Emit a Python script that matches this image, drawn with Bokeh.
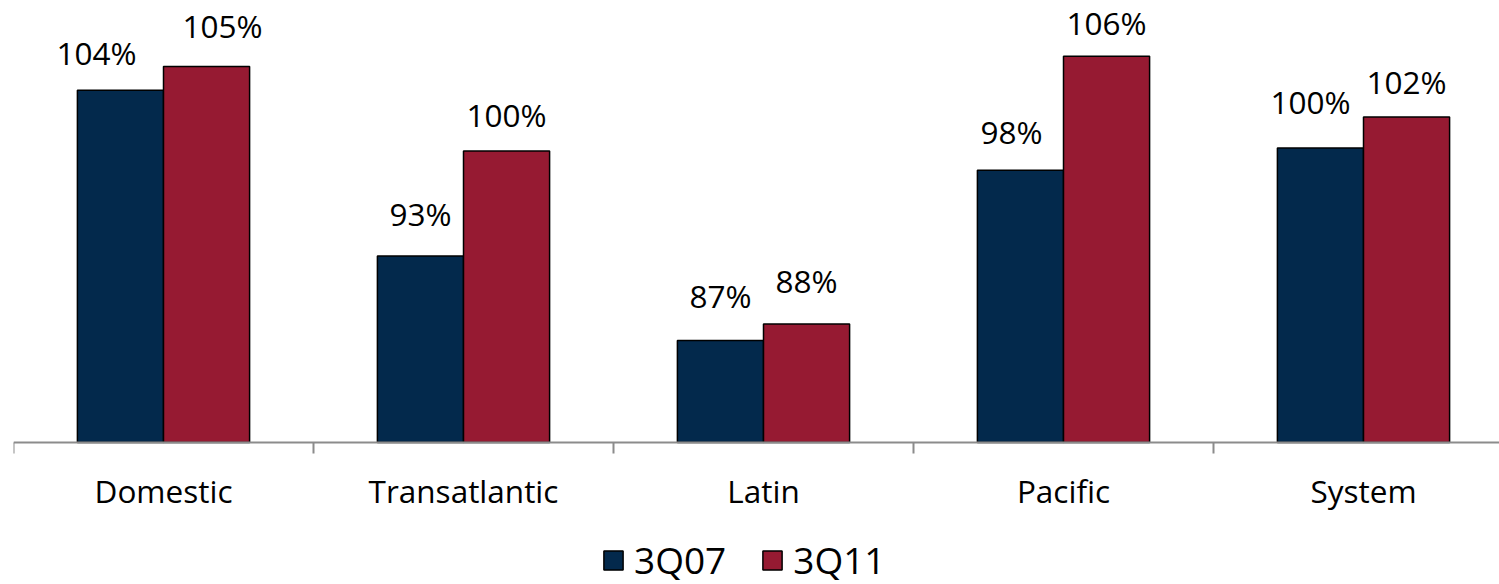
from bokeh.plotting import figure
from bokeh.models import (Range1d, FixedTicker, CustomJSTickFormatter, Legend,
                          LegendItem, ColumnDataSource, LabelSet)
from bokeh.core.properties import value
from bokeh.embed import file_html
from bokeh.resources import INLINE

# Regions and the two quarters compared
regions = ["Domestic", "Transatlantic", "Latin", "Pacific", "System"]
series_names = ["3Q07", "3Q11"]
values_3q07 = [103.8, 92.6, 86.9, 98.4, 99.9]
values_3q11 = [105.4, 99.7, 88.0, 106.1, 102.0]

NAVY = "#03294C"
CRIMSON = "#961A32"
AXIS_GREY = "#8C8C8C"
FONT = "Open Sans"

BASE = 80.0            # value where the bars start
BAR_W = 0.287          # bar width in category units
PX_PER_UNIT = 14.8     # vertical scale, pixels per percentage point
n = len(regions)

p = figure(width=1499, height=584, output_backend="svg", toolbar_location=None,
           x_range=Range1d(0, 1486 / 300),
           y_range=Range1d(BASE - 142 / PX_PER_UNIT, BASE + 442 / PX_PER_UNIT),
           min_border_left=13, min_border_right=0, min_border_top=0,
           min_border_bottom=0)
p.outline_line_color = None
p.grid.visible = False
p.yaxis.visible = False
p.background_fill_color = "white"
p.border_fill_color = "white"

x07 = [i + 0.5 - BAR_W / 2 for i in range(n)]
x11 = [i + 0.5 + BAR_W / 2 for i in range(n)]

r07 = p.vbar(x=x07, top=values_3q07, bottom=BASE, width=BAR_W,
             fill_color=NAVY, line_color="black", line_width=1.5)
r11 = p.vbar(x=x11, top=values_3q11, bottom=BASE, width=BAR_W,
             fill_color=CRIMSON, line_color="black", line_width=1.5)

# Value labels above the bars (pixel offsets from each bar's top centre);
# some are nudged sideways so neighbouring labels don't collide
dx07 = [-24, 0, 0, -9, -10]
dx11 = [16, 0, 0, 0, 0]
dy07 = [38, 43, 45, 39, 46]
dy11 = [41, 36, 44, 34, 35]
lab = ColumnDataSource(dict(
    x=x07 + x11,
    y=values_3q07 + values_3q11,
    text=[f"{v:.0f}%" for v in values_3q07 + values_3q11],
    dx=dx07 + dx11,
    dy=dy07 + dy11,
))
p.add_layout(LabelSet(x="x", y="y", text="text", source=lab, x_offset="dx", y_offset="dy",
                      text_align="center", text_baseline="middle",
                      text_font=value(FONT), text_font_size="31.5px", text_color="black"))

# Category axis sitting on the bar baseline: labels at the centres,
# small ticks at the category boundaries
ax = p.xaxis[0]
ax.fixed_location = BASE
ax.ticker = FixedTicker(ticks=[i + 0.5 for i in range(n)],
                        minor_ticks=[float(i) for i in range(n + 1)])
ax.formatter = CustomJSTickFormatter(args=dict(names=regions),
                                     code="return names[Math.floor(tick)];")
ax.axis_line_color = AXIS_GREY
ax.axis_line_width = 2
ax.major_tick_line_color = None
ax.major_tick_out = 0
ax.major_tick_in = 0
ax.minor_tick_line_color = AXIS_GREY
ax.minor_tick_line_width = 2
ax.minor_tick_out = 11
ax.minor_tick_in = 0
ax.major_label_standoff = 15
ax.major_label_text_font = FONT
ax.major_label_text_font_size = "31.5px"
ax.major_label_text_color = "black"

legend = Legend(items=[LegendItem(label=series_names[0], renderers=[r07]),
                       LegendItem(label=series_names[1], renderers=[r11])],
                orientation="horizontal", location=(588, -1),
                glyph_width=24, glyph_height=24, label_standoff=9, spacing=34,
                label_text_font=FONT, label_text_font_size="37px",
                label_text_color="black", border_line_color=None,
                background_fill_alpha=0, padding=0, margin=0)
p.add_layout(legend)

open("out.html", "w").write(file_html(p, INLINE))
